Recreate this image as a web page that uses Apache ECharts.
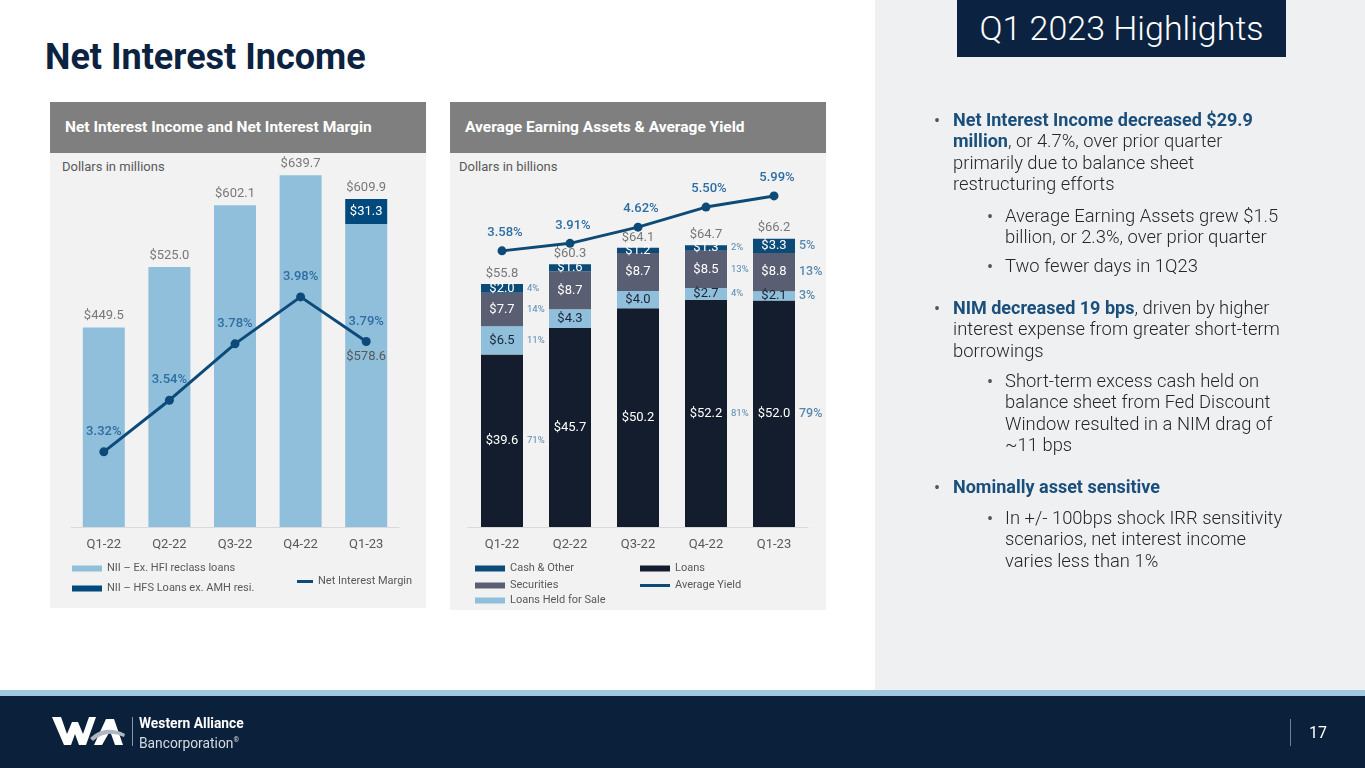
<!DOCTYPE html>
<html>
<head>
<meta charset="utf-8">
<script src="https://cdn.jsdelivr.net/npm/echarts@6/dist/echarts.min.js"></script>
<style>
  html, body { margin:0; padding:0; width:1365px; height:768px; overflow:hidden; background:#ffffff; font-family: Roboto, "Noto Sans", sans-serif; }
  .abs { position:absolute; }
  #rightbg { left:875px; top:0; width:490px; height:690px; background:#EFF0F2; }
  #hlbox { left:957px; top:0; width:329px; height:57px; background:#0B2340; color:#fff; font-family:"Roboto Light", Roboto, sans-serif; font-weight:300; font-size:34px; line-height:57px; text-align:center; }
  #title { left:45px; top:35px; font-size:36px; font-weight:700; color:#0B2340; line-height:44px; white-space:nowrap; }
  .panel { background:#F2F2F2; }
  .phead { background:#7F7F7F; color:#fff; font-weight:700; font-size:15.5px; line-height:51px; padding-left:15px; box-sizing:border-box; white-space:nowrap; }
  .unit { font-size:13px; color:#595959; line-height:16px; white-space:nowrap; }
  .txt { font-size:18.4px; line-height:21.4px; color:#262626; font-family:"Roboto Light", Roboto, sans-serif; font-weight:300; white-space:nowrap; }
  .txt b { color:#1A4F7C; font-weight:700; font-family: Roboto, sans-serif; font-size:18px; }
  .bul { font-size:18px; line-height:21.4px; color:#555; }
  #stripe { left:0; top:690px; width:1365px; height:6px; background:#A2C8E0; }
  #footer { left:0; top:696px; width:1365px; height:72px; background:#0B213B; }
  #chart { left:0; top:0; width:1365px; height:768px; z-index:1; }
  .top { z-index:2; }
</style>
</head>
<body>
<div id="rightbg" class="abs"></div>
<div id="hlbox" class="abs">Q1 2023 Highlights</div>
<div id="title" class="abs">Net Interest Income</div>

<div class="abs panel" style="left:50px;top:102px;width:376px;height:506px;"></div>
<div class="abs phead" style="left:50px;top:102px;width:376px;height:51px;">Net Interest Income and Net Interest Margin</div>
<div class="abs unit" style="left:62px;top:159px;">Dollars in millions</div>

<div class="abs panel" style="left:450px;top:102px;width:376px;height:508px;"></div>
<div class="abs phead" style="left:450px;top:102px;width:376px;height:51px;">Average Earning Assets &amp; Average Yield</div>
<div class="abs unit" style="left:459px;top:159px;">Dollars in billions</div>

<!-- Right-hand highlights -->
<div class="abs bul top" style="left:934px;top:110px;">•</div>
<div class="abs txt top" style="left:953px;top:109px;"><b>Net Interest Income decreased $29.9<br>million</b>, or 4.7%, over prior quarter<br>primarily due to balance sheet<br>restructuring efforts</div>

<div class="abs bul top" style="left:987px;top:206px;">•</div>
<div class="abs txt top" style="left:1005px;top:205px;">Average Earning Assets grew $1.5<br>billion, or 2.3%, over prior quarter</div>
<div class="abs bul top" style="left:987px;top:256px;">•</div>
<div class="abs txt top" style="left:1005px;top:255px;">Two fewer days in 1Q23</div>

<div class="abs bul top" style="left:934px;top:298px;">•</div>
<div class="abs txt top" style="left:953px;top:297px;"><b>NIM decreased 19 bps</b>, driven by higher<br>interest expense from greater short-term<br>borrowings</div>

<div class="abs bul top" style="left:987px;top:371px;">•</div>
<div class="abs txt top" style="left:1005px;top:370px;">Short-term excess cash held on<br>balance sheet from Fed Discount<br>Window resulted in a NIM drag of<br>~11 bps</div>

<div class="abs bul top" style="left:934px;top:477px;">•</div>
<div class="abs txt top" style="left:953px;top:476px;"><b>Nominally asset sensitive</b></div>

<div class="abs bul top" style="left:987px;top:508px;">•</div>
<div class="abs txt top" style="left:1005px;top:507px;">In +/- 100bps shock IRR sensitivity<br>scenarios, net interest income<br>varies less than 1%</div>

<!-- Footer -->
<div id="stripe" class="abs"></div>
<div id="footer" class="abs"></div>
<svg class="abs top" style="left:50px;top:714px;" width="80" height="34" viewBox="0 0 80 34">
  <polygon points="2,3 11,3 17,20 22,8 28,8 33,20 39,3 46,3 36,31 29,31 25,20 21,31 14,31" fill="#ffffff"/>
  <polygon points="44,31 56,5 64,5 73,31 65,31 60,17 52,31" fill="#ffffff"/>
  <path d="M40,24 Q55,10 75,20 L74,23 Q57,15 43,27 Z" fill="#AEB7C2"/>
</svg>
<div class="abs top" style="left:132px;top:717px;width:1px;height:29px;background:#8A97A8;"></div>
<div class="abs top" style="left:139px;top:715px;font-size:13.8px;font-weight:700;color:#fff;line-height:16px;white-space:nowrap;">Western Alliance</div>
<div class="abs top" style="left:139px;top:732px;font-size:13.8px;color:#D5DAE1;line-height:16px;white-space:nowrap;">Bancorporation<sup style="font-size:7px;">®</sup></div>
<div class="abs top" style="left:1290px;top:719px;width:1px;height:27px;background:#6F7E92;"></div>
<div class="abs top" style="left:1309px;top:723px;font-size:16px;color:#fff;line-height:20px;">17</div>

<div id="chart" class="abs"></div>

<script>
// ---------- DATA ----------
const categories = ['Q1-22', 'Q2-22', 'Q3-22', 'Q4-22', 'Q1-23'];

// Left chart: Net Interest Income ($M) and Net Interest Margin (%)
const niiExHfi   = [449.5, 525.0, 602.1, 639.7, 578.6];
const niiHfs     = [null, null, null, null, 31.3];
const niiTotal   = [449.5, 525.0, 602.1, 639.7, 609.9];
const nimPct     = [3.32, 3.54, 3.78, 3.98, 3.79];

// Right chart: Average earning assets ($B) and average yield (%)
const loans       = [39.6, 45.7, 50.2, 52.2, 52.0];
const loansHfs    = [6.5, 4.3, 4.0, 2.7, 2.1];
const securities  = [7.7, 8.7, 8.7, 8.5, 8.8];
const cashOther   = [2.0, 1.6, 1.2, 1.3, 3.3];
const eaTotal     = [55.8, 60.3, 64.1, 64.7, 66.2];
const avgYield    = [3.58, 3.91, 4.62, 5.50, 5.99];

// Mix percentages shown beside selected bars
const loansPct    = [71, null, null, 81, 79];
const hfsPct      = [11, null, null, 4, 3];
const secPct      = [14, null, null, 13, 13];
const cashPct     = [4, null, null, 2, 5];

// ---------- CHART ----------
const FONT = 'Roboto, "Noto Sans", sans-serif';
const GRAY = '#595959';
const C_LIGHT = '#8FBFDA', C_HFS = '#02497D', C_NIM = '#0D4A7A';
const C_LOANS = '#131D2D', C_LHFS = '#8FBFDA', C_SEC = '#5A5E72', C_CASH = '#0C4A78', C_YLD = '#0D4A78';
const C_PCT = '#2F6E9F';

function money(v) { return '$' + v.toFixed(1); }

// midpoints of stacked segments (for the side percentage labels)
function mids(level) {
  return categories.map((c, i) => {
    const parts = [loans[i], loansHfs[i], securities[i], cashOther[i]];
    let base = 0;
    for (let k = 0; k < level; k++) base += parts[k];
    return base + parts[level] / 2;
  });
}
function pctSeries(pcts, level) {
  const m = mids(level);
  const data = [];
  pcts.forEach((p, i) => {
    if (p == null) return;
    const big = i === 4;
    data.push({
      value: [i, m[i]],
      label: {
        formatter: p + '%',
        fontSize: big ? 12.5 : 9.5,
        fontWeight: big ? 500 : 400
      }
    });
  });
  return {
    type: 'scatter', xAxisIndex: 1, yAxisIndex: 2, symbolSize: 0, silent: true, z: 5,
    data: data,
    label: { show: true, position: 'right', distance: 25, color: C_PCT, fontFamily: FONT }
  };
}

const chart = echarts.init(document.getElementById('chart'), null, { renderer: 'canvas' });

const legendBase = {
  icon: 'rect', itemWidth: 30, itemHeight: 6, padding: 0, selectedMode: false,
  textStyle: { fontSize: 11, color: GRAY, fontFamily: FONT }
};

const option = {
  animation: false,
  backgroundColor: 'transparent',
  textStyle: { fontFamily: FONT },
  grid: [
    { left: 71, top: 125, width: 328, height: 402 },
    { left: 468, top: 125, width: 340, height: 402 }
  ],
  xAxis: [
    { type: 'category', gridIndex: 0, data: categories,
      axisLine: { lineStyle: { color: '#D9D9D9', width: 1 } }, axisTick: { show: false },
      axisLabel: { color: GRAY, fontSize: 13, margin: 11, fontFamily: FONT } },
    { type: 'category', gridIndex: 1, data: categories,
      axisLine: { lineStyle: { color: '#D9D9D9', width: 1 } }, axisTick: { show: false },
      axisLabel: { color: GRAY, fontSize: 13, margin: 11, fontFamily: FONT } }
  ],
  yAxis: [
    { type: 'value', gridIndex: 0, min: 200, max: 702.5, show: false, splitLine: { show: false } },
    { type: 'value', gridIndex: 0, min: 3.0, max: 4.712, show: false, splitLine: { show: false } },
    { type: 'value', gridIndex: 1, min: 0, max: 92.3, show: false, splitLine: { show: false } },
    { type: 'value', gridIndex: 1, min: -8.53, max: 9.10, show: false, splitLine: { show: false } }
  ],
  legend: [
    Object.assign({}, legendBase, { data: ['NII – Ex. HFI reclass loans'], left: 72, top: 563 }),
    Object.assign({}, legendBase, { data: ['NII – HFS Loans ex. AMH resi.'], left: 72, top: 583 }),
    Object.assign({}, legendBase, { data: ['Net Interest Margin'], left: 297, top: 576, itemWidth: 16, itemHeight: 3 }),
    Object.assign({}, legendBase, { data: ['Cash & Other'], left: 475, top: 563 }),
    Object.assign({}, legendBase, { data: ['Securities'], left: 475, top: 580 }),
    Object.assign({}, legendBase, { data: ['Loans Held for Sale'], left: 475, top: 595 }),
    Object.assign({}, legendBase, { data: ['Loans'], left: 640, top: 563 }),
    Object.assign({}, legendBase, { data: ['Average Yield'], left: 640, top: 580, itemHeight: 3 })
  ],
  series: [
    // ----- left chart -----
    { name: 'NII – Ex. HFI reclass loans', type: 'bar', xAxisIndex: 0, yAxisIndex: 0, stack: 'nii',
      barWidth: 42, itemStyle: { color: C_LIGHT },
      data: niiExHfi.map((v, i) => i === 4
        ? { value: v, label: { show: true, position: 'inside', offset: [0, -19], formatter: money(v), color: GRAY, fontSize: 13 } }
        : v),
      label: { show: false } },
    { name: 'NII – HFS Loans ex. AMH resi.', type: 'bar', xAxisIndex: 0, yAxisIndex: 0, stack: 'nii',
      barWidth: 42, itemStyle: { color: C_HFS }, data: niiHfs,
      label: { show: true, position: 'inside', color: '#fff', fontSize: 13, formatter: p => money(p.value) } },
    { name: 'niiTotalLabel', type: 'scatter', xAxisIndex: 0, yAxisIndex: 0, symbolSize: 0, silent: true,
      data: niiTotal,
      label: { show: true, position: 'top', distance: 5, color: GRAY, fontSize: 13, formatter: p => money(p.value) } },
    { name: 'Net Interest Margin', type: 'line', xAxisIndex: 0, yAxisIndex: 1, data: nimPct, z: 4,
      lineStyle: { color: C_NIM, width: 3 }, itemStyle: { color: C_NIM },
      symbol: 'circle', symbolSize: 9,
      label: { show: true, position: 'top', distance: 9, color: '#2E6EA3', fontSize: 13, fontWeight: 500,
               formatter: p => p.value.toFixed(2) + '%' } },

    // ----- right chart -----
    { name: 'Loans', type: 'bar', xAxisIndex: 1, yAxisIndex: 2, stack: 'ea', barWidth: 42,
      itemStyle: { color: C_LOANS }, data: loans,
      label: { show: true, position: 'inside', color: '#fff', fontSize: 13, formatter: p => money(p.value) } },
    { name: 'Loans Held for Sale', type: 'bar', xAxisIndex: 1, yAxisIndex: 2, stack: 'ea', barWidth: 42,
      itemStyle: { color: C_LHFS }, data: loansHfs,
      label: { show: true, position: 'inside', color: '#1B2536', fontSize: 13, formatter: p => money(p.value) } },
    { name: 'Securities', type: 'bar', xAxisIndex: 1, yAxisIndex: 2, stack: 'ea', barWidth: 42,
      itemStyle: { color: C_SEC }, data: securities,
      label: { show: true, position: 'inside', color: '#fff', fontSize: 13, formatter: p => money(p.value) } },
    { name: 'Cash & Other', type: 'bar', xAxisIndex: 1, yAxisIndex: 2, stack: 'ea', barWidth: 42,
      itemStyle: { color: C_CASH }, data: cashOther,
      label: { show: true, position: 'inside', color: '#fff', fontSize: 13, formatter: p => money(p.value) } },
    { name: 'eaTotalLabel', type: 'scatter', xAxisIndex: 1, yAxisIndex: 2, symbolSize: 0, silent: true,
      data: eaTotal,
      label: { show: true, position: 'top', distance: 4, color: GRAY, fontSize: 13, formatter: p => money(p.value) } },
    pctSeries(loansPct, 0),
    pctSeries(hfsPct, 1),
    pctSeries(secPct, 2),
    pctSeries(cashPct, 3),
    { name: 'Average Yield', type: 'line', xAxisIndex: 1, yAxisIndex: 3, data: avgYield, z: 6,
      lineStyle: { color: C_YLD, width: 3 }, itemStyle: { color: C_YLD },
      symbol: 'circle', symbolSize: 9,
      label: { show: true, position: 'top', distance: 7, offset: [3, 0], color: '#2E6EA3', fontSize: 13, fontWeight: 500,
               formatter: p => p.value.toFixed(2) + '%' } }
  ]
};
chart.setOption(option);
</script>
</body>
</html>
